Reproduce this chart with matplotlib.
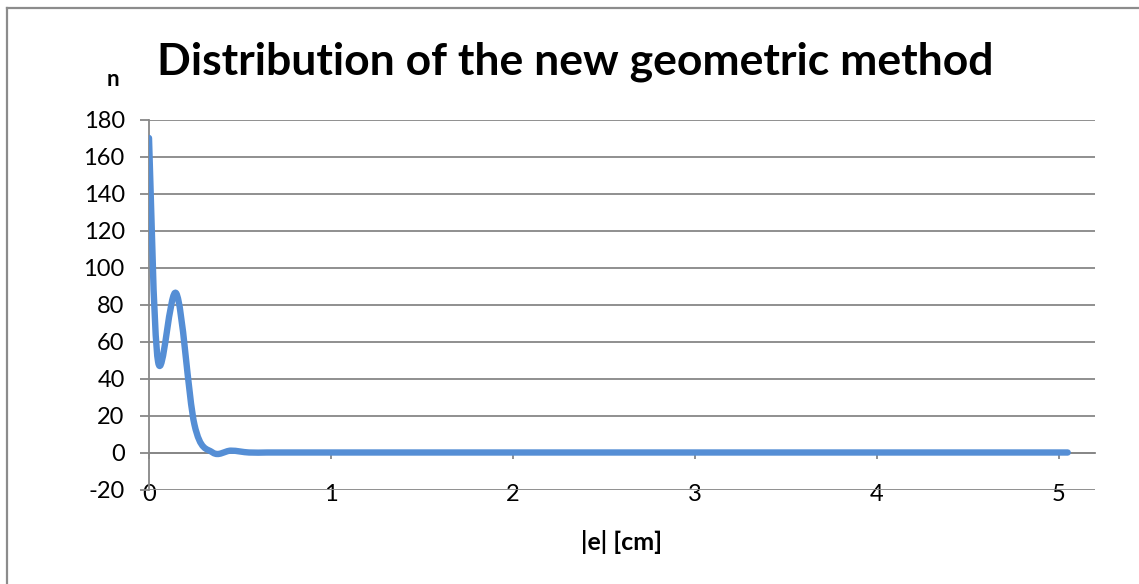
import numpy as np
import matplotlib
matplotlib.use('Agg')
import matplotlib.pyplot as plt
from matplotlib.path import Path
from matplotlib.patches import PathPatch
from matplotlib.lines import Line2D

# bin positions |e| [cm] and counts n
e_cm = [0.0, 0.05, 0.15, 0.25, 0.35, 0.45, 0.55, 0.65, 0.75, 0.85, 0.95,
        1.05, 1.15, 1.25, 1.35, 1.45, 1.55, 1.65, 1.75, 1.85, 1.95,
        2.05, 2.15, 2.25, 2.35, 2.45, 2.55, 2.65, 2.75, 2.85, 2.95,
        3.05, 3.15, 3.25, 3.35, 3.45, 3.55, 3.65, 3.75, 3.85, 3.95,
        4.05, 4.15, 4.25, 4.35, 4.45, 4.55, 4.65, 4.75, 4.85, 4.95, 5.05]
counts = [170, 49, 86, 15, 0, 1, 0, 0, 0, 0, 0,
          0, 0, 0, 0, 0, 0, 0, 0, 0, 0,
          0, 0, 0, 0, 0, 0, 0, 0, 0, 0,
          0, 0, 0, 0, 0, 0, 0, 0, 0, 0,
          0, 0, 0, 0, 0, 0, 0, 0, 0, 0, 0]

x_ticks = [0, 1, 2, 3, 4, 5]
y_ticks = [-20, 0, 20, 40, 60, 80, 100, 120, 140, 160, 180]

title = "Distribution of the new geometric method"
xlabel = "|e| [cm]"
ylabel = "n"

LINE = '#558ED5'
GRID = '#878787'
W, H = 1139, 584

plt.rcParams['font.family'] = ['Lato', 'DejaVu Sans']
plt.rcParams['axes.unicode_minus'] = False


def smooth_path(xs, ys):
    # Excel-style smoothed line: cubic Bezier segments (Catmull-Rom control points)
    pts = np.column_stack([xs, ys]).astype(float)
    n = len(pts)
    verts = [pts[0]]
    codes = [Path.MOVETO]
    for i in range(n - 1):
        p0 = pts[max(i - 1, 0)]
        p1 = pts[i]
        p2 = pts[i + 1]
        p3 = pts[min(i + 2, n - 1)]
        c1 = p1 + (p2 - p0) / 6.0
        c2 = p2 - (p3 - p1) / 6.0
        verts += [c1, c2, p2]
        codes += [Path.CURVE4] * 3
    return Path(verts, codes)


fig = plt.figure(figsize=(W / 100, H / 100), dpi=100)
ax = fig.add_axes([149 / W, 1 - 489.5 / H, (1095 - 149) / W, (489.5 - 119.5) / H])

ax.set_xlim(0, 5.2)
ax.set_ylim(-20, 180)
ax.set_xticks(x_ticks)
ax.set_yticks(y_ticks)

ax.yaxis.grid(True, color=GRID, linewidth=1.3)
ax.xaxis.grid(False)
ax.set_axisbelow(True)

for side in ('top', 'right'):
    ax.spines[side].set_visible(False)
ax.spines['left'].set_color(GRID)
ax.spines['left'].set_linewidth(1.3)
ax.spines['bottom'].set_position(('data', 0))
ax.spines['bottom'].set_color(GRID)
ax.spines['bottom'].set_linewidth(1.3)

ax.tick_params(axis='y', direction='out', length=6.5, width=1.3, color=GRID,
               labelsize=17, pad=11)
ax.tick_params(axis='x', direction='out', length=4, width=1.3, color=GRID,
               labelsize=17, pad=19)

patch = PathPatch(smooth_path(e_cm, counts), facecolor='none', edgecolor=LINE,
                  linewidth=4.6, capstyle='round', joinstyle='round', zorder=3)
ax.add_patch(patch)

fig.text(575 / W, 1 - 75 / H, title, ha='center', va='baseline',
         fontsize=32, fontweight='bold')
fig.text(113 / W, 1 - 80 / H, ylabel, ha='center', va='center',
         fontsize=16, fontweight='bold')
fig.text(622 / W, 1 - 542 / H, xlabel, ha='center', va='center',
         fontsize=18, fontweight='bold')

# chart border (top and left edges visible in the reference)
fig.add_artist(Line2D([7 / W, 1], [1 - 8 / H, 1 - 8 / H], color='#8C8C8C',
                      linewidth=1.6, transform=fig.transFigure))
fig.add_artist(Line2D([7 / W, 7 / W], [0, 1 - 8 / H], color='#8C8C8C',
                      linewidth=1.6, transform=fig.transFigure))

fig.savefig('out.png', dpi=100)
